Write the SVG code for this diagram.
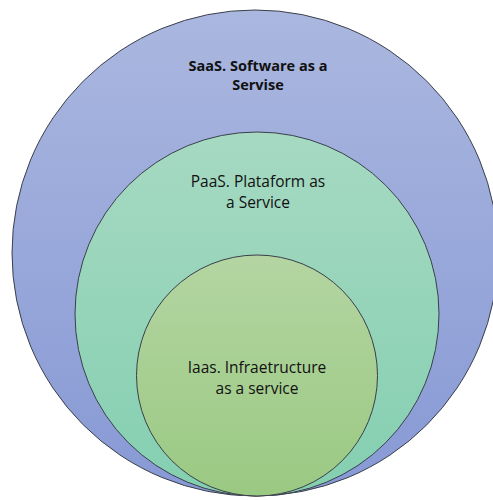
<svg xmlns="http://www.w3.org/2000/svg" width="493" height="500" viewBox="0 0 493 500">
<style>
.c{stroke:#3a3f4a;stroke-width:1}
.t{font-family:"Open Sans","Liberation Sans",Arial,sans-serif;font-size:15.5px;fill:#111;text-anchor:middle}
.b{font-weight:bold;font-size:14.5px}
</style>
<defs>
<linearGradient id="gO" x1="0" y1="0" x2="0" y2="1"><stop offset="0" stop-color="#aab7df"/><stop offset="1" stop-color="#8799d5"/></linearGradient>
<linearGradient id="gM" x1="0" y1="0" x2="0" y2="1"><stop offset="0" stop-color="#a6d9c2"/><stop offset="1" stop-color="#84cfb1"/></linearGradient>
<linearGradient id="gI" x1="0" y1="0" x2="0" y2="1"><stop offset="0" stop-color="#b4d5a2"/><stop offset="1" stop-color="#9ac982"/></linearGradient>
</defs>
<rect width="493" height="500" fill="#fff"/>
<g id="saas">
<circle class="c" cx="255" cy="253" r="243" fill="url(#gO)"/>
<text class="t b" x="258" y="71">SaaS. Software as a</text>
<text class="t b" x="258" y="90">Servise</text>
</g>
<g id="paas">
<circle class="c" cx="257" cy="314" r="182" fill="url(#gM)"/>
<text class="t" x="258" y="187">PaaS. Plataform as</text>
<text class="t" x="258" y="208">a Service</text>
</g>
<g id="iaas">
<circle class="c" cx="257" cy="375.5" r="120.5" fill="url(#gI)"/>
<text class="t" x="257" y="373">Iaas. Infraetructure</text>
<text class="t" x="257" y="394">as a service</text>
</g>
<g id="connectors"/>
</svg>
